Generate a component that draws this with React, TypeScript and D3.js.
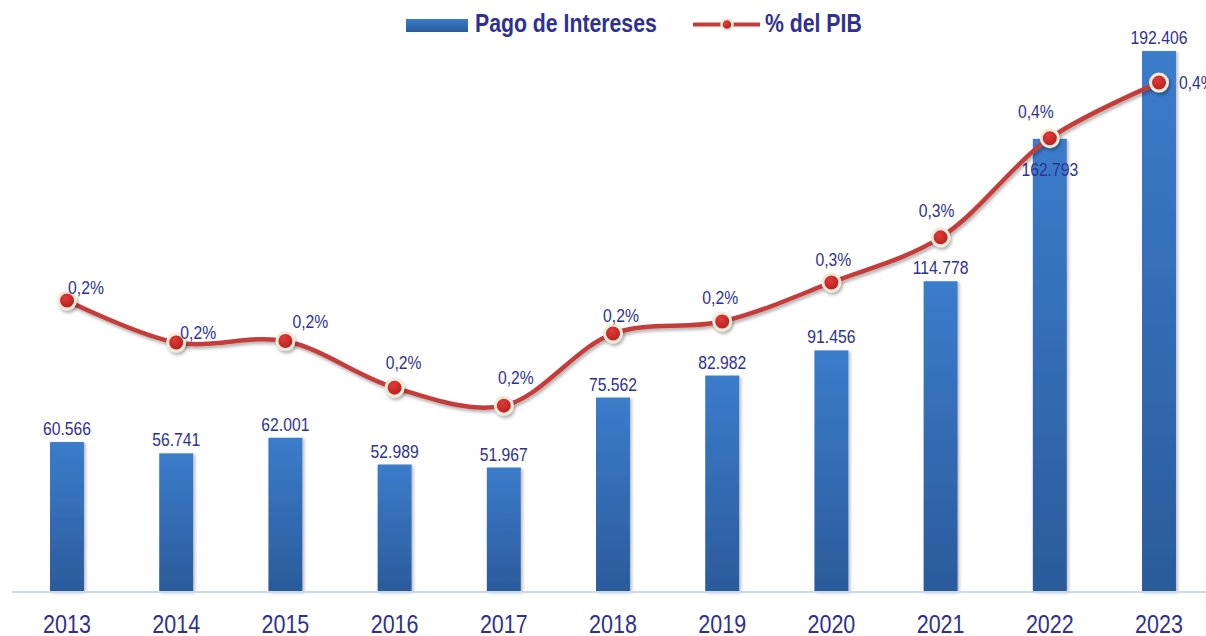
import React from 'react';
import * as d3 from 'd3';

const years = ['2013', '2014', '2015', '2016', '2017', '2018', '2019', '2020', '2021', '2022', '2023'];
const pagoIntereses = [60566, 56741, 62001, 52989, 51967, 75562, 82982, 91456, 114778, 162793, 192406];
const pctPIB = [0.244, 0.216, 0.217, 0.186, 0.174, 0.222, 0.23, 0.256, 0.286, 0.352, 0.389];
const legendLabels = ['Pago de Intereses', '% del PIB'];

// label nudges relative to the marker (layout only)
const pctLabelNudge: [number, number, string][] = [
  [19, -6, 'middle'], [22, -4, 'middle'], [25, -13, 'middle'], [9, -19, 'middle'], [12, -22, 'middle'],
  [8, -12, 'middle'], [-2, -18, 'middle'], [2, -16, 'middle'], [-4, -20, 'middle'], [-14, -20, 'middle'],
  [20, 6, 'start'],
];

const W = 1206;
const H = 636;
const BASE = 592;
const TOP = 28.5;
const TXT = '#2e3192';
const FONT = '"Liberation Sans", Arial, sans-serif';

const loc = d3.formatLocale({ decimal: ',', thousands: '.', grouping: [3], currency: ['', ''] });
const fmtVal = loc.format(',d');
const fmtPct = (v: number) => loc.format('.1f')(v) + '%';

export default function App() {
  const x = d3.scalePoint<string>().domain(years).range([67, 1159]);
  const y = d3.scaleLinear().domain([10000, 200000]).range([BASE, TOP]);
  const y2 = d3.scaleLinear().domain([0.05, 0.425]).range([BASE, TOP]);
  const barW = x.step() * 0.311;

  const pts = years.map((yr, i) => [x(yr) as number, y2(pctPIB[i])] as [number, number]);
  const line = d3.line<[number, number]>().curve(d3.curveCatmullRom.alpha(0.5))(pts) || '';

  const T = (props: any) => {
    const { x: tx, y: ty, sx = 0.85, children, ...rest } = props;
    return (
      <text transform={`translate(${tx},${ty}) scale(${sx},1)`} fontFamily={FONT} fill={TXT} {...rest}>
        {children}
      </text>
    );
  };

  return (
    <svg width={W} height={H} style={{ position: 'absolute', left: 0, top: 0, background: '#fff' }}>
      <defs>
        <linearGradient id="barGrad" x1="0" y1="0" x2="0" y2="1">
          <stop offset="0%" stopColor="#3b7ccb" />
          <stop offset="100%" stopColor="#2b5b9b" />
        </linearGradient>
        <radialGradient id="dotGrad" cx="40%" cy="35%" r="70%">
          <stop offset="0%" stopColor="#e03a36" />
          <stop offset="100%" stopColor="#b01e20" />
        </radialGradient>
        <filter id="barShadow" x="-20%" y="-5%" width="150%" height="110%">
          <feDropShadow dx="2" dy="1" stdDeviation="1.5" floodColor="#000" floodOpacity="0.25" />
        </filter>
        <filter id="lineShadow" x="-5%" y="-20%" width="110%" height="140%">
          <feDropShadow dx="1.5" dy="2.5" stdDeviation="1.5" floodColor="#000" floodOpacity="0.3" />
        </filter>
      </defs>

      {/* bars */}
      <g filter="url(#barShadow)">
        {years.map((yr, i) => (
          <rect
            key={yr}
            x={(x(yr) as number) - barW / 2}
            y={y(pagoIntereses[i])}
            width={barW}
            height={BASE - y(pagoIntereses[i])}
            fill="url(#barGrad)"
          />
        ))}
      </g>

      {/* axis line */}
      <line x1={12} x2={W} y1={BASE} y2={BASE} stroke="#c9d9ef" strokeWidth={2} />

      {/* year labels */}
      {years.map((yr) => (
        <T key={yr} x={x(yr)} y={633} fontSize={25} textAnchor="middle" sx={0.86}>
          {yr}
        </T>
      ))}

      {/* bar value labels */}
      {years.map((yr, i) => {
        const top = y(pagoIntereses[i]);
        const inside = Math.abs(pts[i][1] - top) < 20;
        return (
          <T key={yr} x={x(yr)} y={inside ? top + 37 : top - 7} fontSize={18.5} textAnchor="middle">
            {fmtVal(pagoIntereses[i])}
          </T>
        );
      })}

      {/* line */}
      <path d={line} fill="none" stroke="#c53d3b" strokeWidth={4.5} filter="url(#lineShadow)" />
      <g filter="url(#lineShadow)">
        {pts.map(([cx, cy], i) => (
          <circle key={i} cx={cx} cy={cy} r={8.5} fill="url(#dotGrad)" stroke="#f1ead6" strokeWidth={3} />
        ))}
      </g>

      {/* pct labels */}
      {pts.map(([cx, cy], i) => {
        const [dx, dy, anchor] = pctLabelNudge[i];
        return (
          <T key={i} x={cx + dx} y={cy + dy} fontSize={18.5} textAnchor={anchor}>
            {fmtPct(pctPIB[i])}
          </T>
        );
      })}

      {/* legend */}
      <rect x={406} y={19} width={62} height={13} fill="url(#barGrad)" />
      <T x={475} y={32} fontSize={25} fontWeight="bold">
        {legendLabels[0]}
      </T>
      <line x1={693} x2={760} y1={24.5} y2={24.5} stroke="#c53d3b" strokeWidth={4} />
      <circle cx={727} cy={24.5} r={5.5} fill="url(#dotGrad)" stroke="#f1ead6" strokeWidth={2.5} />
      <T x={765} y={32} fontSize={25} fontWeight="bold">
        {legendLabels[1]}
      </T>
    </svg>
  );
}
